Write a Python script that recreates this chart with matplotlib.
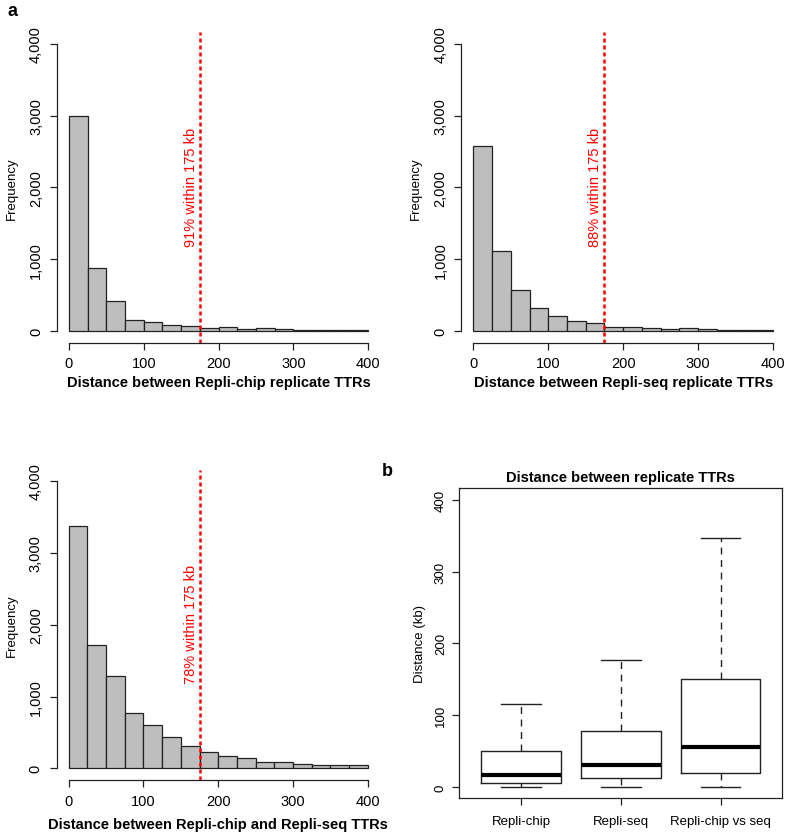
import matplotlib
matplotlib.use('Agg')
import matplotlib.pyplot as plt
import numpy as np
from matplotlib.ticker import FuncFormatter

plt.rcParams['font.family'] = ['Liberation Sans', 'DejaVu Sans']

# histogram bins (kb) and counts
bin_edges = np.arange(0, 425, 25)
counts_chip = [3000, 877, 413, 158, 125, 79, 70, 42, 51, 28, 42, 23, 14, 14, 9, 9]
counts_seq = [2585, 1118, 566, 320, 204, 135, 116, 51, 56, 42, 28, 42, 32, 19, 19, 19]
counts_chip_vs_seq = [3378, 1717, 1281, 770, 608, 432, 316, 222, 176, 144, 93, 83,
                      60, 42, 42, 46]

hist_labels = ['Distance between Repli-chip replicate TTRs',
               'Distance between Repli-seq replicate TTRs',
               'Distance between Repli-chip and Repli-seq TTRs']
pct_labels = ['91% within 175 kb', '88% within 175 kb', '78% within 175 kb']
cutoff = 175

# boxplot summaries (kb)
box_names = ['Repli-chip', 'Repli-seq', 'Repli-chip vs seq']
box_whislo = [0, 0, 0]
box_q1 = [5, 12, 19]
box_med = [17, 30, 55]
box_q3 = [50, 78, 150]
box_whishi = [116, 177, 347]

fig = plt.figure(figsize=(7.88, 8.37), dpi=100)

thousands = FuncFormatter(lambda v, p: f'{int(v):,}')


def hist_panel(rect, counts, xlabel, pct, labelpad):
    ax = fig.add_axes(rect)
    ax.bar(bin_edges[:-1], counts, width=25, align='edge', color='#bebebe',
           edgecolor='#222222', linewidth=0.9)
    ax.set_xlim(-16, 416)
    ax.set_ylim(-160, 4160)
    ax.spines['top'].set_visible(False)
    ax.spines['right'].set_visible(False)
    ax.spines['left'].set_bounds(0, 4000)
    ax.spines['bottom'].set_bounds(0, 400)
    for s in ('left', 'bottom'):
        ax.spines[s].set_linewidth(0.9)
        ax.spines[s].set_color('#222222')
    ax.set_xticks([0, 100, 200, 300, 400])
    ax.set_yticks([0, 1000, 2000, 3000, 4000])
    ax.yaxis.set_major_formatter(thousands)
    ax.tick_params(axis='both', length=5, width=0.9, labelsize=10.5, color='#222222')
    ax.tick_params(axis='y', pad=5)
    ax.tick_params(axis='x', pad=5)
    for lab in ax.get_yticklabels():
        lab.set_rotation(90)
        lab.set_va('center')
    ax.set_ylabel('Frequency', fontsize=9.5, labelpad=8)
    ax.set_xlabel(xlabel, fontsize=10.5, fontweight='bold', labelpad=labelpad)
    ax.axvline(cutoff, color='#ff0000', linewidth=1.8, linestyle=(0, (1.6, 1.2)))
    ax.text(163, 2020, pct, color='#ff0000', rotation=90, fontsize=10.5,
            ha='center', va='center')
    return ax


hist_panel([0.0723, 0.5896, 0.410, 0.3704], counts_chip, hist_labels[0], pct_labels[0], 3)
hist_panel([0.5854, 0.5896, 0.411, 0.3704], counts_seq, hist_labels[1], pct_labels[1], 3)
hist_panel([0.0720, 0.0671, 0.410, 0.3707], counts_chip_vs_seq, hist_labels[2],
           pct_labels[2], 7)

# boxplot panel
axb = fig.add_axes([0.5829, 0.0450, 0.4099, 0.3704])
stats = []
for i, name in enumerate(box_names):
    stats.append({'label': name, 'whislo': box_whislo[i], 'q1': box_q1[i],
                  'med': box_med[i], 'q3': box_q3[i], 'whishi': box_whishi[i],
                  'fliers': []})
axb.bxp(stats, positions=[1, 2, 3], widths=0.8, showfliers=False,
        boxprops=dict(color='#222222', linewidth=1.0),
        whiskerprops=dict(color='#222222', linewidth=1.0, linestyle=(0, (5, 4))),
        capprops=dict(color='#222222', linewidth=1.0),
        medianprops=dict(color='black', linewidth=3.0),
        capwidths=0.4)
axb.set_xlim(0.38, 3.62)
axb.set_ylim(-16, 416)
axb.set_yticks([0, 100, 200, 300, 400])
axb.set_xticks([1, 2, 3])
axb.set_xticklabels(box_names)
axb.tick_params(axis='both', length=5, width=0.9, labelsize=9.5, color='#222222')
axb.tick_params(axis='y', pad=4)
axb.tick_params(axis='x', pad=7)
for lab in axb.get_yticklabels():
    lab.set_rotation(90)
    lab.set_va('center')
for s in axb.spines.values():
    s.set_linewidth(0.9)
    s.set_color('#222222')
axb.set_ylabel('Distance (kb)', fontsize=9.5, labelpad=6)
axb.set_title('Distance between replicate TTRs', fontsize=10.5, fontweight='bold', pad=5)

fig.text(0.009, 0.997, 'a', fontsize=13, fontweight='bold', va='top', ha='left')
fig.text(0.485, 0.447, 'b', fontsize=13, fontweight='bold', va='top', ha='left')

fig.savefig('out.png', dpi=100)
